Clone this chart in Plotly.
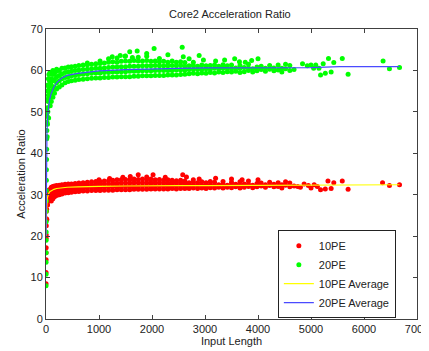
import plotly.graph_objects as go

# ---------------- data ----------------
# 10PE: steep start region
r_start_x = [1, 1, 2, 2, 3, 3, 4, 5, 6, 7, 8, 10, 12, 14, 16, 18, 20, 25, 30, 35, 40, 45, 50, 60, 70, 80]
r_start_y = [8.5, 11.2, 14.3, 16.0, 17.2, 19.5, 20.3, 22.5, 24.2, 26.0, 27.5, 28.5, 26.5, 29.5, 24.0, 30.0,
             28.0, 30.5, 27.5, 29.0, 31.0, 28.5, 30.0, 31.2, 29.0, 30.5]
# 10PE: dense band, one list of ratios per input-length column
r_col_x = [100, 130, 160, 200, 250, 300, 360, 420, 480, 550, 620, 700, 780, 860, 940, 1020, 1100, 1180,
           1260, 1340, 1420, 1500, 1580, 1660, 1740, 1820, 1900, 1980, 2060, 2140, 2220, 2300, 2380,
           2460, 2540, 2620, 2700, 2780, 2860, 2940, 3020, 3100, 3180, 3260, 3340, 3420, 3500, 3580,
           3660, 3740, 3820, 3900, 3980, 4060, 4140, 4220, 4300, 4380, 4450, 4520, 4600, 4680]
r_col_y = [
    [28.5, 29.8, 31.0, 31.8], [29.0, 30.2, 31.2, 32.0], [29.5, 30.5, 31.4, 32.1], [29.8, 30.8, 31.6, 32.2],
    [30.0, 31.0, 31.8, 32.3], [30.2, 31.1, 31.9, 32.4], [30.4, 31.2, 32.0, 32.5], [30.5, 31.3, 32.1, 32.6],
    [30.6, 31.4, 32.2, 32.6], [30.7, 31.5, 32.2, 32.7], [30.8, 31.5, 32.3, 32.8], [30.9, 31.6, 32.3, 32.9],
    [30.9, 31.6, 32.4, 33.0], [31.0, 31.7, 32.4, 33.1], [31.0, 31.7, 32.5, 33.2], [31.0, 31.8, 32.5, 33.2],
    [31.1, 31.8, 32.6, 33.3], [31.1, 31.8, 32.6, 33.4], [31.1, 31.9, 32.7, 33.5], [31.2, 31.9, 32.7, 33.6],
    [31.2, 31.9, 32.8, 33.6], [31.2, 32.0, 32.8, 33.7], [31.2, 32.0, 32.8, 33.6], [31.3, 32.0, 32.9, 33.8],
    [31.3, 32.0, 32.9, 33.7], [31.3, 32.1, 32.9, 33.8], [31.3, 32.1, 32.9, 33.7], [31.4, 32.1, 32.9, 33.8],
    [31.4, 32.1, 32.9, 33.6], [31.4, 32.1, 32.9, 33.7], [31.4, 32.1, 32.8, 33.5], [31.4, 32.1, 32.8, 33.6],
    [31.5, 32.2, 32.9, 33.5], [31.4, 32.1, 32.8, 33.4], [31.5, 32.2, 32.9, 33.5], [31.5, 32.2, 32.9, 33.3],
    [31.5, 32.2, 32.9], [31.6, 32.3, 33.0, 33.6], [31.5, 32.2, 32.9], [31.6, 32.3, 33.1],
    [31.5, 32.2, 32.9], [31.7, 32.4, 33.2], [31.6, 32.3, 33.0], [31.8, 32.4],
    [31.6, 32.5, 33.2], [31.8, 32.3], [31.7, 32.4, 33.0], [31.9, 32.5],
    [31.6, 32.3, 33.1], [31.8, 32.6], [32.0, 32.5, 33.3], [31.7, 32.3],
    [31.9, 32.7], [32.1, 32.8], [31.8, 32.4], [32.2, 33.0],
    [31.9, 32.5], [32.0, 32.9], [31.6, 32.4], [32.3, 33.1],
    [31.9, 32.8], [32.1],
]
# 10PE: outliers and sparse tail
r_extra_x = [1000, 1200, 1450, 1590, 1740, 1900, 2020, 2250, 2580, 2650, 2890, 3200, 3500, 3700, 4000,
             4750, 4800, 4870, 4950, 5000, 5060, 5120, 5180, 5270, 5320, 5380, 5430, 5590, 5700,
             6350, 6480, 6670]
r_extra_y = [33.6, 33.9, 34.2, 34.4, 34.8, 34.3, 34.8, 34.2, 34.8, 34.3, 33.8, 34.0, 33.8, 33.6, 33.6,
             32.0, 31.8, 32.6, 32.2, 31.6, 32.4, 32.0, 31.2, 31.4, 33.3, 31.5, 32.9, 33.3, 31.3,
             32.9, 32.2, 32.4]

# 20PE: steep start region
g_start_x = [1, 1, 1, 2, 2, 3, 3, 4, 5, 6, 7, 8, 10, 12, 14, 16, 18, 20, 22, 25, 28, 30, 32, 35, 38, 40,
             45, 45, 50, 50, 55, 60, 65, 70, 75, 80, 85]
g_start_y = [8.0, 10.8, 13.7, 16.0, 19.0, 21.0, 23.5, 26.0, 28.5, 31.0, 33.5, 36.0, 38.5, 41.0, 43.5, 45.5,
             47.5, 49.0, 44.0, 51.0, 47.0, 53.0, 55.0, 50.0, 56.5, 52.5, 54.0, 58.0, 48.5, 56.0, 59.0,
             53.5, 57.5, 55.0, 59.5, 51.5, 56.5]
# 20PE: dense band, one list of ratios per input-length column
g_col_x = r_col_x
g_col_y = [
    [52.5, 54.5, 56.5, 58.0, 59.5], [53.5, 55.5, 57.5, 59.0, 60.0], [54.5, 56.0, 57.8, 59.3],
    [55.5, 57.0, 58.5, 59.8, 60.3], [56.0, 57.5, 58.8, 60.0], [56.5, 58.0, 59.2, 60.5],
    [57.0, 58.3, 59.5, 60.6], [57.3, 58.5, 59.7, 60.8], [57.5, 58.7, 59.8, 60.9],
    [57.6, 58.8, 60.0, 61.0], [57.8, 59.0, 60.1, 61.2], [57.9, 59.1, 60.2, 61.3],
    [58.0, 59.2, 60.3, 61.4, 61.8], [58.1, 59.3, 60.4, 61.5], [58.2, 59.4, 60.5, 61.6],
    [58.2, 59.4, 60.5, 61.7, 62.3], [58.3, 59.5, 60.6, 61.8], [58.3, 59.5, 60.7, 62.0, 62.8],
    [58.4, 59.6, 60.8, 62.1], [58.4, 59.6, 60.8, 62.0, 63.0], [58.5, 59.7, 60.9, 62.2],
    [58.5, 59.7, 60.9, 62.3, 63.5], [58.5, 59.8, 61.0, 62.2], [58.6, 59.8, 61.0, 62.4],
    [58.6, 59.8, 61.0, 62.3, 63.2], [58.7, 59.9, 61.1, 62.3], [58.7, 59.9, 61.1, 62.4, 63.4],
    [58.7, 59.9, 61.1, 62.2], [58.8, 60.0, 61.2, 62.3], [58.8, 60.0, 61.1, 62.1, 62.9],
    [58.8, 60.0, 61.1, 62.2], [58.9, 60.0, 61.1, 62.0], [58.9, 60.0, 61.2, 62.3],
    [58.9, 60.1, 61.1, 62.0], [59.0, 60.1, 61.2, 62.1], [59.1, 60.1, 61.0, 61.9],
    [59.2, 60.2, 61.1], [59.3, 60.3, 61.2, 62.0], [59.2, 60.2, 61.0], [59.4, 60.3, 61.3],
    [59.3, 60.4, 61.1], [59.5, 60.3, 61.2], [59.4, 60.5, 61.3], [59.6, 60.4, 61.0],
    [59.5, 60.6, 61.4], [59.7, 60.5, 61.1], [59.6, 60.4, 61.3], [59.8, 60.6],
    [59.5, 60.5, 61.2], [59.7, 60.7], [60.0, 60.6, 61.5], [59.6, 60.4],
    [59.9, 60.8], [60.2, 61.0], [59.8, 60.5], [60.3, 61.2],
    [59.9, 60.6], [60.1, 61.3], [59.6, 60.5], [60.4, 61.5],
    [60.0, 61.2], [60.2],
]
# 20PE: outliers and sparse tail
g_extra_x = [1250, 1400, 1490, 1580, 1630, 1720, 1900, 2040, 2300, 2570, 2590, 2700, 2890, 2970, 3200,
             3370, 3560, 3650, 3760, 3880, 4000,
             4840, 4930, 5000, 5050, 5090, 5150, 5180, 5230, 5270, 5330, 5380, 5430, 5590, 5700,
             6360, 6480, 6670]
g_extra_y = [63.3, 63.6, 63.4, 64.5, 63.1, 64.7, 64.1, 65.3, 63.8, 65.6, 63.3, 62.8, 63.6, 62.5, 62.3,
             62.5, 62.8, 62.1, 62.0, 62.4, 62.8,
             61.6, 61.1, 61.3, 60.5, 61.3, 60.5, 58.9, 61.6, 59.3, 62.9, 59.6, 61.9, 62.9, 59.1,
             62.3, 60.4, 60.7]

# Average curves
avg_x = [1, 3, 5, 8, 12, 18, 25, 35, 50, 70, 100, 150, 200, 300, 400, 600, 800, 1000, 1500, 2000,
         2500, 3000, 4000, 5000, 5540, 6670]
avg10_y = [20, 22, 24, 26, 27.5, 28.5, 29.2, 29.8, 30.3, 30.7, 31.0, 31.3, 31.5, 31.7, 31.8, 31.9,
           32.0, 32.0, 32.1, 32.2, 32.2, 32.2, 32.3, 32.3, 32.4, 32.4]
avg20_y = [20, 27, 33, 38, 42, 45, 47.5, 49.5, 51.5, 53, 54.5, 56, 57, 58.2, 58.8, 59.3, 59.6, 59.9,
           60.2, 60.4, 60.5, 60.6, 60.6, 60.7, 60.9, 60.9]

x_ticks = [0, 1000, 2000, 3000, 4000, 5000, 6000, 7000]
y_ticks = [0, 10, 20, 30, 40, 50, 60, 70]


def flatten(start_x, start_y, col_x, col_y, extra_x, extra_y):
    xs, ys = list(start_x), list(start_y)
    for cx, cys in zip(col_x, col_y):
        for cy in cys:
            xs.append(cx)
            ys.append(cy)
    xs += extra_x
    ys += extra_y
    return xs, ys


r_x, r_y = flatten(r_start_x, r_start_y, r_col_x, r_col_y, r_extra_x, r_extra_y)
g_x, g_y = flatten(g_start_x, g_start_y, g_col_x, g_col_y, g_extra_x, g_extra_y)

FONT = "Liberation Sans, Arial, sans-serif"
TXT = "#222222"

fig = go.Figure()
fig.add_trace(go.Scatter(x=r_x, y=r_y, mode="markers", name="10PE",
                         marker=dict(color="#ff0000", size=5, line=dict(width=0))))
fig.add_trace(go.Scatter(x=g_x, y=g_y, mode="markers", name="20PE",
                         marker=dict(color="#00ff00", size=5, line=dict(width=0))))
fig.add_trace(go.Scatter(x=avg_x, y=avg10_y, mode="lines", name="10PE Average",
                         line=dict(color="#ffff00", width=1.2)))
fig.add_trace(go.Scatter(x=avg_x, y=avg20_y, mode="lines", name="20PE Average",
                         line=dict(color="#4a4aff", width=1.2)))

axis_common = dict(showline=True, linecolor="#404040", linewidth=1, mirror="allticks",
                   ticks="inside", ticklen=4, tickcolor="#404040", showgrid=False, zeroline=False,
                   automargin=False, ticklabeloverflow="allow",
                   tickfont=dict(family=FONT, size=11, color=TXT))

# page body adds an 8px offset; figure sized so the whole figure fits the 429x351 window
fig.update_layout(
    width=421, height=343,
    margin=dict(l=37.5, r=12, t=21, b=31.5),
    paper_bgcolor="white", plot_bgcolor="white",
    title=dict(text="Core2 Acceleration Ratio", x=0.527, xanchor="center", y=0.993, yanchor="top",
               font=dict(family=FONT, size=11, color=TXT)),
    xaxis=dict(range=[0, 7000], tickvals=x_ticks, **axis_common,
               title=dict(text="Input Length", standoff=3, font=dict(family=FONT, size=11, color=TXT))),
    yaxis=dict(range=[0, 70], tickvals=y_ticks, **axis_common,
               title=dict(text="Acceleration Ratio", standoff=2, font=dict(family=FONT, size=11, color=TXT))),
    showlegend=True,
    legend=dict(x=0.943, xanchor="right", y=0.003, yanchor="bottom", bgcolor="white",
                bordercolor=TXT, borderwidth=1, font=dict(family=FONT, size=11, color=TXT),
                tracegroupgap=0, itemwidth=30),
)

fig.write_html("out.html")
